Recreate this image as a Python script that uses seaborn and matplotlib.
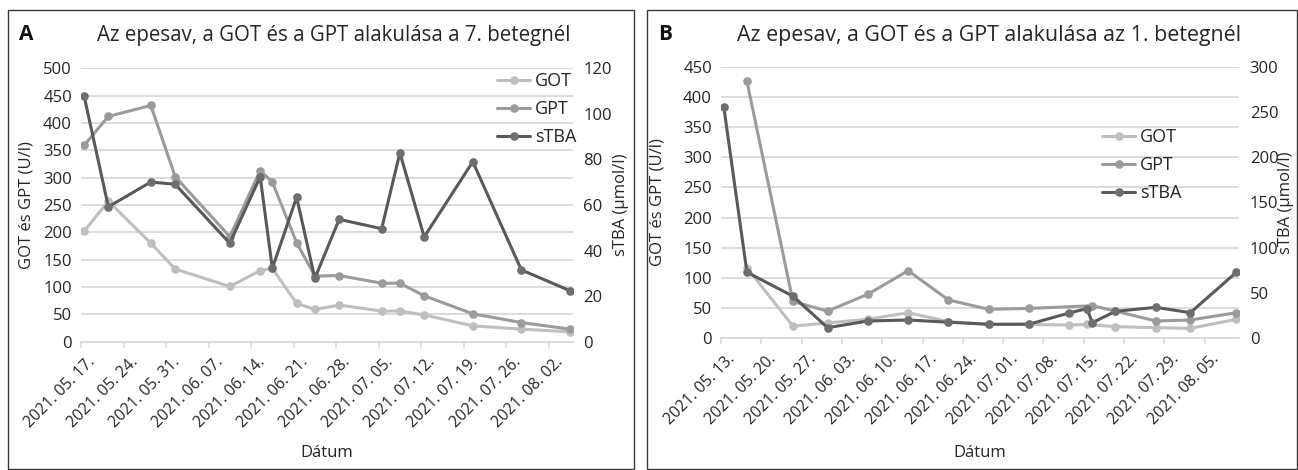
import matplotlib
matplotlib.use('Agg')
import matplotlib.pyplot as plt
import matplotlib.dates as mdates
import matplotlib.transforms as mtransforms
from matplotlib.lines import Line2D
from matplotlib.patches import Rectangle
import seaborn as sns
import pandas as pd

sns.set_theme(style='white')
plt.rcParams['font.family'] = ['Open Sans', 'DejaVu Sans']

# ---------------- Panel A (7. beteg) ----------------
a_dates = ['2021-05-17', '2021-05-21', '2021-05-28', '2021-06-01', '2021-06-10',
           '2021-06-15', '2021-06-17', '2021-06-21', '2021-06-24', '2021-06-28',
           '2021-07-05', '2021-07-08', '2021-07-12', '2021-07-20', '2021-07-28',
           '2021-08-05']
a_got = [202, 257, 180, 133, 101, 130, 134, 70, 59, 67, 56, 56, 49, 29, 23, 18]
a_gpt = [359, 412, 432, 302, 192, 313, 292, 181, 120, 121, 107, 107, 84, 51, 35, 23]
a_stba = [108, 59.2, 70.1, 69.1, 43.2, 72.4, 32.2, 63.4, 27.8, 53.7, 49.6, 82.9,
          46.0, 79.0, 31.5, 22.4]
a_left_ticks = [0, 50, 100, 150, 200, 250, 300, 350, 400, 450, 500]
a_right_ticks = [0, 20, 40, 60, 80, 100, 120]

# ---------------- Panel B (1. beteg) ----------------
b_got_dates = ['2021-05-17', '2021-05-25', '2021-05-31', '2021-06-07', '2021-06-14',
               '2021-06-21', '2021-06-28', '2021-07-05', '2021-07-12', '2021-07-15',
               '2021-07-20', '2021-07-27', '2021-08-02', '2021-08-10']
b_got = [117, 20, 25.5, 31.5, 42.5, 27.5, 23, 23, 22, 23, 19.3, 17.6, 16.5, 31.5]
b_gpt_dates = ['2021-05-17', '2021-05-25', '2021-05-31', '2021-06-07', '2021-06-14',
               '2021-06-21', '2021-06-28', '2021-07-05', '2021-07-16', '2021-07-20',
               '2021-07-27', '2021-08-02', '2021-08-10']
b_gpt = [426, 61, 45, 73, 112, 63.5, 48, 49.5, 54, 45, 28.7, 30.3, 42.4]
b_stba_dates = ['2021-05-13', '2021-05-17', '2021-05-25', '2021-05-31', '2021-06-07',
                '2021-06-14', '2021-06-21', '2021-06-28', '2021-07-05', '2021-07-12',
                '2021-07-15', '2021-07-16', '2021-07-20', '2021-07-27', '2021-08-02',
                '2021-08-10']
b_stba = [255, 73, 46.5, 11.7, 19.1, 20.2, 17.8, 15.5, 15.6, 28, 32.8, 17.3, 29.8,
          34.2, 28.3, 73]
b_left_ticks = [0, 50, 100, 150, 200, 250, 300, 350, 400, 450]
b_right_ticks = [0, 50, 100, 150, 200, 250, 300]

labels = ['GOT', 'GPT', 'sTBA']
title_a = 'Az epesav, a GOT és a GPT alakulása a 7. betegnél'
title_b = 'Az epesav, a GOT és a GPT alakulása az 1. betegnél'

C_GOT = '#BFBFBF'
C_GPT = '#9B9B9B'
C_STBA = '#595959'
C_STBA_M = '#6E6E6E'
GRID = '#D9D9D9'
TXT = '#262626'
LW = 2.2
MS = 6.2

W, H = 1298, 470
fig = plt.figure(figsize=(W / 100, H / 100), dpi=100)


def px_axes(x0, x1, ytop, ybot):
    return fig.add_axes([x0 / W, 1 - ybot / H, (x1 - x0) / W, (ybot - ytop) / H])


def series(ax, dates, vals, color, mcolor):
    x = pd.to_datetime(dates) + pd.Timedelta(hours=12)
    sns.lineplot(x=x, y=vals, ax=ax, color=color, marker='o', markersize=MS,
                 markeredgewidth=0, markerfacecolor=mcolor, linewidth=LW,
                 estimator=None, sort=False, legend=False)


def panel(box, got_d, got_v, gpt_d, gpt_v, stba_d, stba_v, lticks, rticks,
          xstart, xlast, ylab_x, rlab_x):
    x0, x1, ytop, ybot = box
    ax = px_axes(x0, x1, ytop, ybot)
    ax2 = ax.twinx()
    series(ax, got_d, got_v, C_GOT, C_GOT)
    series(ax, gpt_d, gpt_v, C_GPT, C_GPT)
    series(ax2, stba_d, stba_v, C_STBA, C_STBA_M)

    start = pd.Timestamp(xstart)
    end = pd.Timestamp(xlast) + pd.Timedelta(days=1)
    ax.set_xlim(start, end)
    ticks = pd.date_range(start, end, freq='7D')
    ax.set_xticks(ticks)
    ax.xaxis.set_major_formatter(mdates.DateFormatter('%Y. %m. %d.'))

    ax.set_ylim(lticks[0], lticks[-1])
    ax.set_yticks(lticks)
    ax2.set_ylim(rticks[0], rticks[-1])
    ax2.set_yticks(rticks)

    ax.grid(axis='y', color=GRID, lw=1.3)
    ax.grid(axis='x', visible=False)
    ax2.grid(False)
    for a in (ax, ax2):
        for s in a.spines.values():
            s.set_visible(False)
    ax.spines['bottom'].set_visible(True)
    ax.spines['bottom'].set_color(GRID)
    ax.spines['bottom'].set_linewidth(1.3)
    ax.set_axisbelow(True)

    ax.tick_params(axis='x', length=4, width=1.1, color=GRID, labelsize=11.3,
                   labelcolor=TXT, pad=9, direction='out', bottom=True)
    ax.tick_params(axis='y', length=0, labelsize=12, labelcolor=TXT, pad=6.5)
    ax2.tick_params(axis='y', length=0, labelsize=12, labelcolor=TXT, pad=7.5)
    off = mtransforms.ScaledTranslation(12 / 100, 0, fig.dpi_scale_trans)
    for lab in ax.get_xticklabels():
        lab.set_rotation(45)
        lab.set_ha('right')
        lab.set_va('center')
        lab.set_rotation_mode('anchor')
        lab.set_transform(lab.get_transform() + off)

    hgt = ybot - ytop
    wid = x1 - x0
    ax.set_xlabel('Dátum', fontsize=12, color=TXT, va='center')
    ax.xaxis.set_label_coords(0.5, (ybot - 453) / hgt)
    ax.set_ylabel('GOT és GPT (U/l)', fontsize=12, color=TXT, va='center', ha='center')
    ax.yaxis.set_label_coords((ylab_x - x0) / wid, 0.5)
    ax2.set_ylabel('sTBA (µmol/l)', fontsize=12, color=TXT, va='center', ha='center',
                   rotation=90)
    ax2.yaxis.set_label_coords((rlab_x - x0) / wid, 0.5)
    return ax, ax2


axA, axA2 = panel((81, 573, 68.3, 341.7), a_dates, a_got, a_dates, a_gpt, a_dates, a_stba,
                  a_left_ticks, a_right_ticks, '2021-05-17', a_dates[-1], 26, 621)
axB, axB2 = panel((721, 1239.3, 66.7, 338.3), b_got_dates, b_got, b_gpt_dates, b_gpt,
                  b_stba_dates, b_stba, b_left_ticks, b_right_ticks, '2021-05-13',
                  b_stba_dates[-1], 658, 1286)

# titles, letters
fig.text(334 / W, 1 - 36 / H, title_a, ha='center', va='center', fontsize=14.8, color=TXT)
fig.text(989 / W, 1 - 36 / H, title_b, ha='center', va='center', fontsize=15.4, color=TXT)
fig.text(26 / W, 1 - 34 / H, 'A', ha='center', va='center', fontsize=15,
         fontweight='bold', color='#111111')
fig.text(665 / W, 1 - 34 / H, 'B', ha='center', va='center', fontsize=15,
         fontweight='bold', color='#111111')

# legends
handles = [Line2D([], [], color=C_GOT, marker='o', markersize=MS, markeredgewidth=0, lw=LW),
           Line2D([], [], color=C_GPT, marker='o', markersize=MS, markeredgewidth=0, lw=LW),
           Line2D([], [], color=C_STBA, marker='o', markersize=MS, markeredgewidth=0,
                  markerfacecolor=C_STBA_M, lw=LW)]
for ax2, (lx, ly) in ((axA2, (497, 72)), (axB2, (1102, 128))):
    ax2.legend(handles, labels, loc='upper left', bbox_to_anchor=(lx / W, 1 - ly / H),
               bbox_transform=fig.transFigure, frameon=False, borderpad=0,
               borderaxespad=0, handlelength=1.85, handletextpad=0.25,
               labelspacing=0.55, fontsize=13, labelcolor=TXT)

# panel frames
for (bx0, bx1) in ((8, 634), (647, 1297)):
    fig.add_artist(Rectangle((bx0 / W, 1 - 469 / H), (bx1 - bx0) / W, (469 - 10) / H,
                             transform=fig.transFigure, fill=False, ec='#3A3A3A', lw=1.0))

fig.savefig('out.png', dpi=100)
